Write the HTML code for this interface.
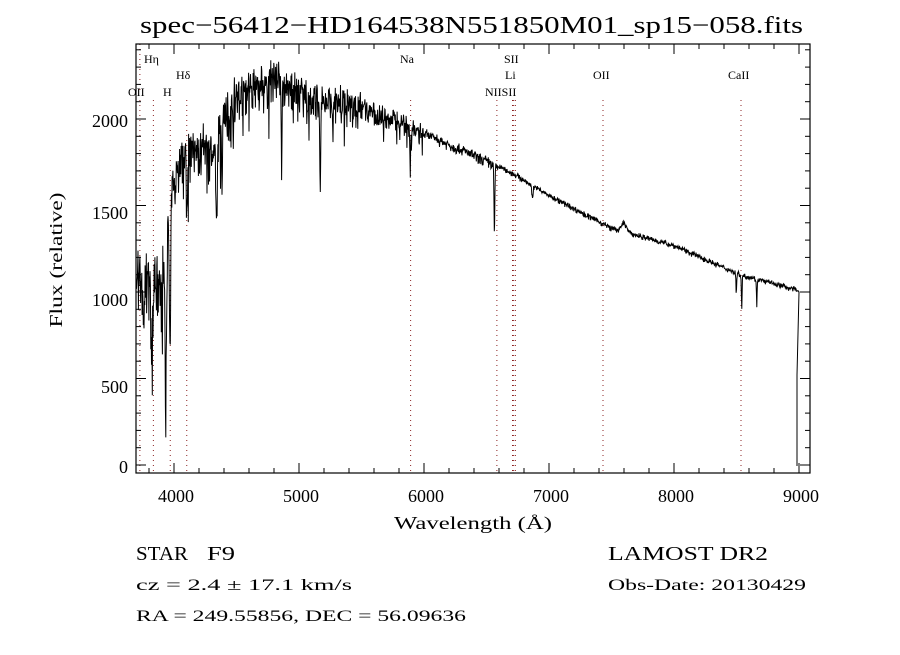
<!DOCTYPE html>
<html><head><meta charset="utf-8"><style>
body{margin:0;background:#fff;}
svg text{font-family:"Liberation Serif",serif;fill:#000;}
</style></head><body>
<svg id="s" width="900" height="650" xmlns="http://www.w3.org/2000/svg">
<rect width="900" height="650" fill="#fff"/>
<text x="140" y="33" font-size="24" textLength="663" lengthAdjust="spacingAndGlyphs">spec−56412−HD164538N551850M01_sp15−058.fits</text>
<g id="lines" stroke="#8b2020" stroke-width="1" stroke-dasharray="1,4"></g>
<g font-size="12">
<text x="144" y="63">Hη</text>
<text x="176" y="79">Hδ</text>
<text x="128" y="96">OII</text>
<text x="163" y="96">H</text>
<text x="400" y="63">Na</text>
<text x="504" y="63">SII</text>
<text x="505" y="79">Li</text>
<text x="485" y="96">NIISII</text>
<text x="593" y="79">OII</text>
<text x="728" y="79">CaII</text>
</g>
<path id="spec" fill="none" stroke="#000" stroke-width="1"/>
<rect x="136" y="44" width="674" height="429" fill="none" stroke="#000" stroke-width="1.2"/>
<g id="ticks" stroke="#000" stroke-width="1"></g>
<g font-size="18" font-family="Liberation Sans" text-anchor="end">
<text x="128" y="473">0</text><text x="128" y="393">500</text><text x="128" y="306">1000</text><text x="128" y="219">1500</text><text x="128" y="127">2000</text>
</g>
<g font-size="18" font-family="Liberation Sans" text-anchor="middle">
<text x="176" y="502">4000</text><text x="301" y="502">5000</text><text x="426" y="502">6000</text><text x="551" y="502">7000</text><text x="676" y="502">8000</text><text x="801" y="502">9000</text>
</g>
<text x="394" y="529" font-size="18" textLength="158" lengthAdjust="spacingAndGlyphs">Wavelength (Å)</text>
<text transform="translate(62,260) rotate(-90)" font-size="18" text-anchor="middle" textLength="135" lengthAdjust="spacingAndGlyphs">Flux (relative)</text>
<text x="136" y="560" font-size="20" textLength="52" lengthAdjust="spacingAndGlyphs">STAR</text>
<text x="207" y="560" font-size="20" textLength="28" lengthAdjust="spacingAndGlyphs">F9</text>
<text x="136" y="590" font-size="16" textLength="216" lengthAdjust="spacingAndGlyphs">cz = 2.4 ± 17.1 km/s</text>
<text x="136" y="621" font-size="16" textLength="330" lengthAdjust="spacingAndGlyphs">RA = 249.55856, DEC =  56.09636</text>
<text x="608" y="560" font-size="20" textLength="160" lengthAdjust="spacingAndGlyphs">LAMOST DR2</text>
<text x="608" y="590" font-size="16" textLength="198" lengthAdjust="spacingAndGlyphs">Obs-Date: 20130429</text>
</svg>
<script>
var X=function(l){return 174+(l-4000)*0.125},Y=function(f){return 465-f*0.173};
var t=document.getElementById('ticks'),h='';
for(var l=3800;l<=9000;l+=200){var x=X(l),len=(l%1000==0)?10:5;h+='<line x1="'+x+'" y1="473" x2="'+x+'" y2="'+(473-len)+'"/><line x1="'+x+'" y1="44" x2="'+x+'" y2="'+(44+len)+'"/>';}
for(var f=0;f<=2400;f+=100){var y=Y(f),len=(f%500==0)?10:5;h+='<line x1="136" y1="'+y+'" x2="'+(136+len)+'" y2="'+y+'"/><line x1="810" y1="'+y+'" x2="'+(810-len)+'" y2="'+y+'"/>';}
t.innerHTML=h;
var lg='';[3727,3835,3970,4102,5893,6583,6708,6717,6731,7432,8536].forEach(function(l){var x=X(l);lg+='<line x1="'+x+'" y1="100" x2="'+x+'" y2="473"/>';});
lg+='<line x1="'+X(3727)+'" y1="44" x2="'+X(3727)+'" y2="90"/>';
document.getElementById('lines').innerHTML=lg;
var seed=7;function r(){seed=(seed*16807)%2147483647;return seed/2147483647;}
var cp=[[3700,1150],[3900,1050],[4000,1700],[4100,1820],[4300,1850],[4500,2150],[4800,2250],[5000,2150],[5500,2080],[6000,1920],[6500,1760],[6700,1690],[7000,1560],[7500,1370],[8000,1270],[8500,1110],[9000,1010]];
function cont(l){for(var i=0;i<cp.length-1;i++){if(l<=cp[i+1][0]){var a=cp[i],b=cp[i+1],u=(l-a[0])/(b[0]-a[0]);return a[1]+u*(b[1]-a[1]);}}return 1010;}
var abs=[[3760,250,10],[3820,420,10],[3933,900,7],[3968,850,7],[4102,350,5],[4340,550,7],[4383,250,5],[4861,600,4],[5170,500,5],[5270,200,5],[5890,250,4],[6563,400,5],[6867,60,8],[7600,-50,30],[8498,120,4],[8542,200,4],[8662,150,4]];
var d='';
for(var l=3700;l<=9000;l+=3){var c=cont(l),amp=l<4000?220:l<4500?170:l<5500?130:l<6000?70:l<6600?35:18;
var f=c+(r()-0.6)*2*amp*(r()<0.5?1:0.5);
if(l<6000&&r()<0.08)f-=amp*1.8*r();
abs.forEach(function(a){var z=(l-a[0])/a[2];f-=a[1]*Math.exp(-z*z);});
d+=(d?'L':'M')+X(l).toFixed(1)+','+Y(f).toFixed(1);}
d+='L'+X(9000)+','+Y(1000)+'L797,'+Y(520)+'L797,466';
document.getElementById('spec').setAttribute('d',d);
</script>
</body></html>
